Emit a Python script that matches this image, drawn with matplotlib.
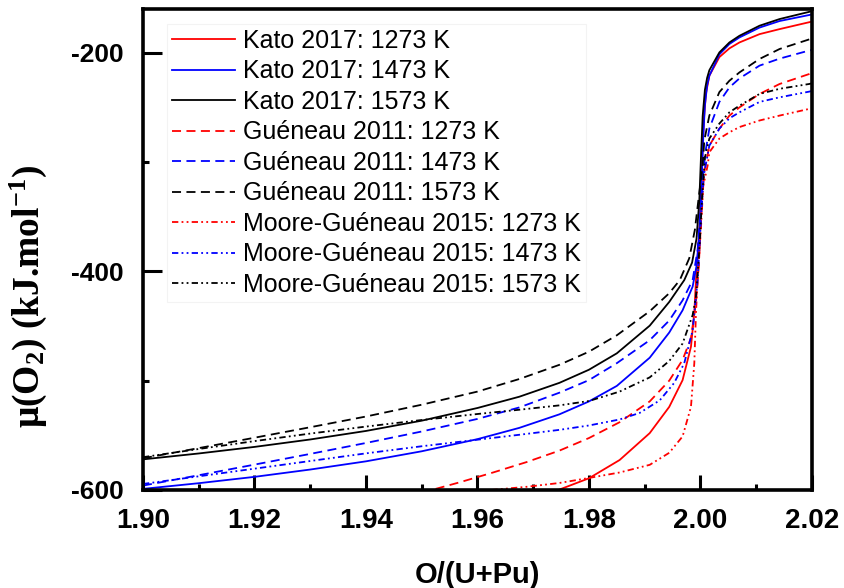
import matplotlib
matplotlib.use("Agg")
import matplotlib.pyplot as plt
from matplotlib.ticker import MultipleLocator

plt.rcParams['font.family'] = ['Liberation Sans', 'DejaVu Sans']
plt.rcParams['mathtext.fontset'] = 'custom'
plt.rcParams['mathtext.rm'] = 'Liberation Serif:bold'
plt.rcParams['mathtext.it'] = 'Liberation Serif:bold'
plt.rcParams['mathtext.bf'] = 'Liberation Serif:bold'

# Kato 2017
kato_1273_x = [1.9745, 1.980, 1.9855, 1.9909, 1.9944, 1.9968, 1.9983, 1.9989, 1.9992, 1.9996,
               2.0000, 2.0003, 2.0006, 2.0010, 2.0016, 2.0034, 2.0052, 2.0070, 2.0106, 2.0142, 2.02]
kato_1273_y = [-600, -589.3, -572.6, -548, -524, -499.5, -469, -438, -408, -380,
               -345, -300, -262, -237, -221, -204, -196, -190.6, -183, -178.4, -171.5]
kato_1473_x = [1.90, 1.91, 1.92, 1.93, 1.94, 1.95, 1.96, 1.9675, 1.9747, 1.980, 1.985, 1.9909,
               1.9944, 1.9968, 1.9986, 1.9993, 1.9998, 2.0002, 2.0005, 2.0008, 2.0012, 2.0016,
               2.0034, 2.0052, 2.0070, 2.0106, 2.0142, 2.02]
kato_1473_y = [-599, -593.8, -588, -581.3, -573.8, -564.6, -553.5, -543.2, -530.8, -519, -504.8, -479,
               -456, -435.6, -414, -395, -365, -320, -278, -248, -230, -221,
               -201.5, -192, -186, -177, -171, -165]
kato_1573_x = [1.90, 1.91, 1.92, 1.93, 1.94, 1.95, 1.96, 1.9675, 1.9747, 1.980, 1.985, 1.9909,
               1.9944, 1.9971, 1.9985, 1.9993, 1.9998, 2.0001, 2.0004, 2.0008, 2.0012, 2.0016,
               2.0034, 2.0052, 2.0070, 2.0106, 2.0142, 2.02]
kato_1573_y = [-572, -566.6, -560.6, -553.8, -546, -536.6, -525, -514.7, -502, -490, -475, -449.7,
               -428, -408, -392, -370, -335, -295, -258, -234, -223, -216,
               -199.7, -190.6, -184.5, -175.3, -169.2, -162]

# Gueneau 2011
gue_1273_x = [1.9525, 1.9568, 1.9628, 1.9688, 1.9747, 1.980, 1.9855, 1.9909, 1.9944, 1.9968,
              1.9983, 1.9992, 1.9997, 2.0001, 2.0004, 2.0007, 2.0016, 2.0034, 2.0052, 2.0070,
              2.0106, 2.0142, 2.0195, 2.02]
gue_1273_y = [-599, -593, -584, -574.5, -564, -552.5, -538, -519, -500, -481,
              -461, -428, -395, -355, -326, -309, -285, -269.4, -257.5, -250,
              -237.7, -228.6, -219.5, -218.5]
gue_1473_x = [1.90, 1.91, 1.92, 1.93, 1.94, 1.95, 1.96, 1.9675, 1.9747, 1.980, 1.985, 1.9909,
              1.9944, 1.9968, 1.9986, 1.9995, 2.0001, 2.0005, 2.0010, 2.0016, 2.0034, 2.0052,
              2.0070, 2.0106, 2.0142, 2.0195, 2.02]
gue_1473_y = [-596, -586.5, -576.8, -567, -557, -546.5, -535, -524.5, -511, -499.5, -484, -463,
              -445, -426.5, -408, -380, -340, -307, -287.6, -269.4, -245, -231.7,
              -223.5, -211.8, -205.4, -198, -197.5]
gue_1573_x = [1.90, 1.91, 1.92, 1.93, 1.94, 1.95, 1.96, 1.9675, 1.9747, 1.980, 1.985, 1.9909,
              1.9944, 1.9963, 1.9980, 1.9990, 1.9997, 2.0004, 2.0007, 2.0016, 2.0034, 2.0052,
              2.0070, 2.0106, 2.0142, 2.02]
gue_1573_y = [-571, -561.7, -552.2, -542.6, -532.8, -522, -510, -498.5, -485.5, -473.5, -458.5, -436.5,
              -420, -408, -388, -362, -332, -303, -280, -257.5, -236, -225.6,
              -218, -205.7, -196.6, -187]

# Moore-Gueneau 2015
moore_1273_x = [1.9625, 1.9690, 1.9747, 1.980, 1.9855, 1.9909, 1.9944, 1.9968, 1.9983, 1.9989,
                1.9992, 1.9995, 2.0001, 2.0005, 2.0013, 2.0016, 2.0034, 2.0052, 2.0070, 2.0106,
                2.0142, 2.0195, 2.02]
moore_1273_y = [-600, -597, -593.6, -589, -584, -577, -566, -551, -524, -484,
                -438, -408, -360, -322, -303, -291, -278.5, -272.8, -268, -262,
                -257.5, -251.4, -251]
moore_1473_x = [1.90, 1.91, 1.92, 1.93, 1.94, 1.95, 1.96, 1.9675, 1.9747, 1.980, 1.9855, 1.9891,
                1.9927, 1.9953, 1.9971, 1.9986, 1.9995, 2.0001, 2.0006, 2.0016, 2.0034, 2.0052,
                2.0070, 2.0106, 2.0142, 2.0195, 2.02]
moore_1473_y = [-594.5, -587.5, -580.5, -573.5, -566.5, -560, -554, -549.5, -545, -541, -535.5, -529.5,
                -518, -502, -484, -454, -408, -352, -312, -285, -269.4, -260,
                -254.5, -245, -240.8, -235.6, -235]
moore_1573_x = [1.90, 1.91, 1.92, 1.93, 1.94, 1.95, 1.96, 1.9675, 1.9747, 1.980, 1.9855, 1.9909,
                1.9944, 1.9968, 1.9986, 1.9992, 1.9998, 2.0003, 2.0008, 2.0016, 2.0034, 2.0052,
                2.0070, 2.0106, 2.0142, 2.0195, 2.02]
moore_1573_y = [-570, -562.5, -555.3, -548.4, -542, -536, -530.5, -526.6, -522.6, -518.6, -510, -497,
                -482, -466, -440, -423, -380, -332, -296, -278.5, -264.8, -254.5,
                -248.4, -237.7, -233, -228.6, -228]

labels = ["Kato 2017: 1273 K", "Kato 2017: 1473 K", "Kato 2017: 1573 K",
          "Guéneau 2011: 1273 K", "Guéneau 2011: 1473 K", "Guéneau 2011: 1573 K",
          "Moore-Guéneau 2015: 1273 K", "Moore-Guéneau 2015: 1473 K", "Moore-Guéneau 2015: 1573 K"]

series = [(kato_1273_x, kato_1273_y), (kato_1473_x, kato_1473_y), (kato_1573_x, kato_1573_y),
          (gue_1273_x, gue_1273_y), (gue_1473_x, gue_1473_y), (gue_1573_x, gue_1573_y),
          (moore_1273_x, moore_1273_y), (moore_1473_x, moore_1473_y), (moore_1573_x, moore_1573_y)]

colors = ['#ff0000', '#0000ff', '#000000'] * 3
styles = ['-'] * 3 + [(0, (5, 3))] * 3 + [(0, (3.5, 1.8, 1, 1.8, 1, 1.8))] * 3

fig = plt.figure(figsize=(8.44, 5.88), dpi=100)
ax = fig.add_axes([0.1694, 0.1667, 0.7926, 0.818])

for (xs, ys), c, ls, lab in zip(series, colors, styles, labels):
    ax.plot(xs, ys, color=c, linestyle=ls, linewidth=1.3, label=lab)

ax.set_xlim(1.90, 2.02)
ax.set_ylim(-600, -160)
ax.xaxis.set_minor_locator(MultipleLocator(0.01))
ax.yaxis.set_minor_locator(MultipleLocator(100))
ax.set_xticks([1.90, 1.92, 1.94, 1.96, 1.98, 2.00, 2.02])
ax.set_xticklabels(["1.90", "1.92", "1.94", "1.96", "1.98", "2.00", "2.02"], fontweight='bold')
ax.set_yticks([-600, -400, -200])
ax.set_yticklabels(["-600", "-400", "-200"], fontweight='bold')
ax.tick_params(which='both', direction='in', width=2.2, top=False, right=False)
ax.tick_params(axis='x', which='major', length=11, labelsize=20, pad=13)
ax.tick_params(axis='y', which='major', length=14, labelsize=19, pad=14)
ax.tick_params(which='minor', length=4)

for sp in ax.spines.values():
    sp.set_linewidth(2.6)

ax.set_xlabel("O/(U+Pu)", fontsize=21, fontweight='bold')
ax.xaxis.set_label_coords(0.5, -0.148)
ax.set_ylabel("μ(O$_2$) (kJ.mol$^{-1}$)", fontsize=27, fontfamily='Liberation Serif',
              fontweight='bold')
ax.yaxis.set_label_coords(-0.140, 0.403)

leg = ax.legend(loc='upper left', fontsize=18, handlelength=2.5, handletextpad=0.32,
                labelspacing=0.26, borderpad=0.2, borderaxespad=0, frameon=True,
                fancybox=False, bbox_to_anchor=(0.036, 0.969))
leg.get_frame().set_edgecolor('#f0f0f0')
leg.get_frame().set_linewidth(0.8)

fig.savefig("out.png", dpi=100)
